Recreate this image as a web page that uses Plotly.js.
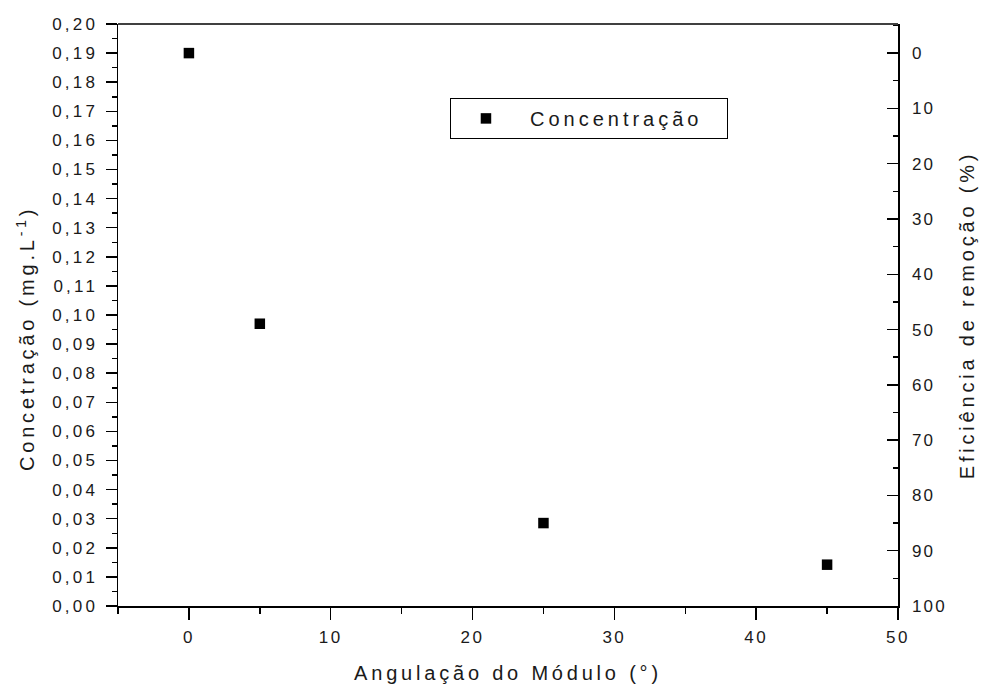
<!DOCTYPE html>
<html>
<head>
<meta charset="utf-8">
<script src="https://cdn.plot.ly/plotly-3.0.1.min.js"></script>
<style>
html, body { margin: 0; padding: 0; background: #fff; }
#chart { width: 985px; height: 691px; }
text { letter-spacing: 2.5px; }
g.ytick text { letter-spacing: 3.2px; }
g.y2tick text { letter-spacing: 2.2px; }
text.xtitle, text.ytitle, text.y2title, text.annotation-text { letter-spacing: 3.8px; }
text.legendtext { letter-spacing: 4px; }
</style>
</head>
<body>
<div id="chart"></div>
<script>
// Data
const angle = [0, 5, 25, 45];                        // Angulação do Módulo (°)
const concentration = [0.190, 0.097, 0.0285, 0.0142]; // mg.L-1
const efficiency = [0, 49, 85, 92.5];                // Eficiência de remoção (%)

const xTickVals = [0, 10, 20, 30, 40, 50];
const yTickVals = [0, 0.01, 0.02, 0.03, 0.04, 0.05, 0.06, 0.07, 0.08, 0.09, 0.10,
                   0.11, 0.12, 0.13, 0.14, 0.15, 0.16, 0.17, 0.18, 0.19, 0.20];
const y2TickVals = [0, 10, 20, 30, 40, 50, 60, 70, 80, 90, 100];

const xTitle = 'Angulação do Módulo (°)';
const yTitle = 'Concetração (mg.L<sup>-1</sup>)';
const y2Title = 'Eficiência de remoção (%)';
const legendName = 'Concentração';

const fontFamily = 'Liberation Sans, Arial, sans-serif';
const textColor = '#1a1a1a';

const traces = [
  {
    x: angle,
    y: concentration,
    type: 'scatter',
    mode: 'markers',
    name: legendName + '\u00a0\u00a0',
    marker: { symbol: 'square', size: 10.5, color: '#000' },
    xaxis: 'x',
    yaxis: 'y',
    hoverinfo: 'x+y'
  },
  {
    x: angle,
    y: efficiency,
    type: 'scatter',
    mode: 'markers',
    name: 'Eficiência',
    showlegend: false,
    marker: { symbol: 'square', size: 10, color: 'rgba(0,0,0,0)' },
    xaxis: 'x',
    yaxis: 'y2',
    hoverinfo: 'skip'
  }
];

const layout = {
  width: 985,
  height: 691,
  paper_bgcolor: '#fff',
  plot_bgcolor: '#fff',
  separators: ',.',
  margin: { l: 118, r: 87, t: 24, b: 85, pad: 0 },
  font: { family: fontFamily, color: textColor, size: 17 },
  showlegend: true,
  legend: {
    x: 0.4256, y: 0.873, xanchor: 'left', yanchor: 'top',
    bordercolor: '#000', borderwidth: 1, bgcolor: '#fff',
    font: { family: fontFamily, size: 20, color: textColor },
    indentation: -9,
    itemwidth: 78
  },
  xaxis: {
    range: [-5, 50],
    tickmode: 'array',
    tickvals: xTickVals,
    ticks: 'outside',
    ticklen: 12,
    tickwidth: 1.5,
    tickcolor: '#000',
    minor: { dtick: 5, tick0: 0, ticks: 'outside', ticklen: 6, tickwidth: 1.5, tickcolor: '#000' },
    showline: true,
    linecolor: '#000',
    linewidth: 1.5,
    mirror: false,
    showgrid: false,
    zeroline: false,
    ticklabelstandoff: 3,
    tickfont: { size: 17 },
    title: { text: xTitle, font: { size: 20 }, standoff: 20 }
  },
  yaxis: {
    range: [0, 0.20],
    tickmode: 'array',
    tickvals: yTickVals,
    tickformat: '.2f',
    ticks: 'outside',
    ticklen: 11,
    tickwidth: 1.5,
    tickcolor: '#000',
    minor: { dtick: 0.005, tick0: 0, ticks: 'outside', ticklen: 5, tickwidth: 1.5, tickcolor: '#000' },
    showline: true,
    linecolor: '#000',
    linewidth: 1.5,
    showgrid: false,
    zeroline: false,
    ticklabelstandoff: 4,
    tickfont: { size: 17 }
  },
  yaxis2: {
    overlaying: 'y',
    side: 'right',
    range: [100, -5.263],
    tickmode: 'array',
    tickvals: y2TickVals,
    ticks: 'inside',
    ticklen: 11,
    tickwidth: 1.5,
    tickcolor: '#000',
    minor: { dtick: 5, tick0: 0, ticks: 'inside', ticklen: 5, tickwidth: 1.5, tickcolor: '#000' },
    showline: true,
    linecolor: '#000',
    linewidth: 1.5,
    showgrid: false,
    zeroline: false,
    ticklabelstandoff: 9,
    tickfont: { size: 17 },
    title: { text: y2Title, font: { size: 20 }, standoff: 14 }
  },
  annotations: [
    { text: yTitle, textangle: -90, showarrow: false,
      xref: 'paper', yref: 'paper', x: 0, y: 0.4588,
      xanchor: 'center', yanchor: 'middle', xshift: -92,
      font: { size: 20, color: textColor, family: fontFamily } }
  ],
  shapes: [
    { type: 'line', xref: 'paper', yref: 'paper', x0: 0, x1: 1, y0: 1, y1: 1,
      line: { color: '#000', width: 1.5 } }
  ]
};

Plotly.newPlot('chart', traces, layout, { displayModeBar: false, staticPlot: true });
</script>
</body>
</html>
